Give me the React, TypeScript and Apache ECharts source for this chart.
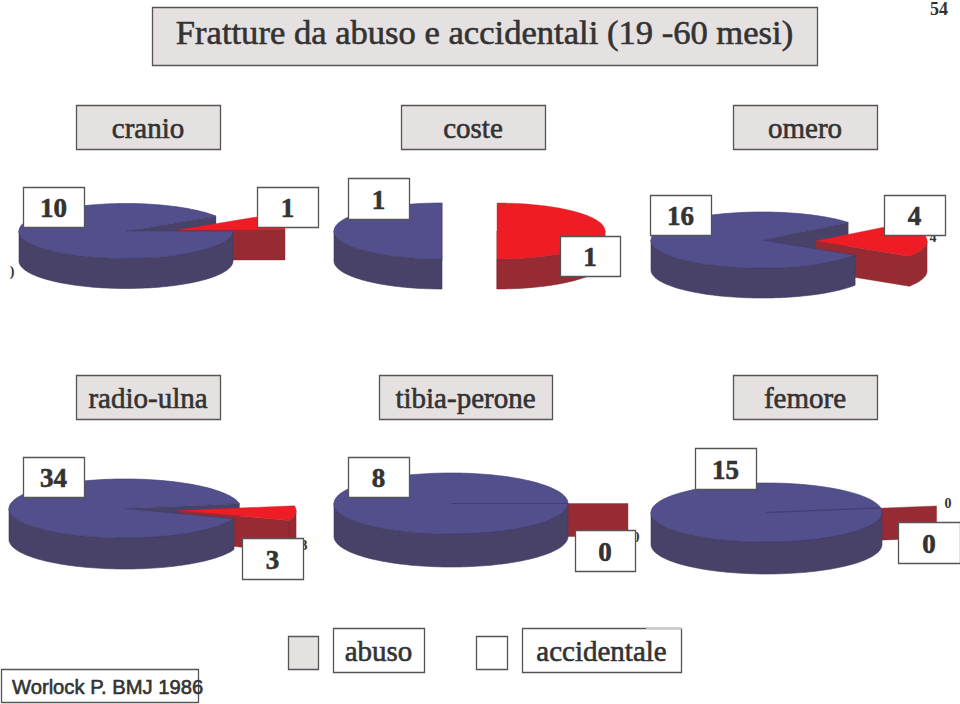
import React, { useEffect, useRef } from "react";
import * as echarts from "echarts";

const titleText = "Fratture da abuso e accidentali (19 -60 mesi)";
const pieNames = ["cranio", "coste", "omero", "radio-ulna", "tibia-perone", "femore"];
const abusoValues = [10, 1, 16, 34, 8, 15];
const accidentaleValues = [1, 1, 4, 3, 0, 0];
const legendNames = ["abuso", "accidentale"];
const sourceText = "Worlock P. BMJ 1986";
const pageNumber = "54";

// layout of each drawn 3D pie: cx, cy, rx, ry, depth, startAngle, explodeX, explodeY
const pieLayout = [
  [126, 231, 107, 27.5, 30, 0, 52, -1],
  [442, 231, 108, 28, 30, -90, 55, 0],
  [762, 240, 111, 28, 30, -33, 54, 1],
  [125, 508.5, 116, 29.5, 31, -20, 55, 2],
  [451, 503.5, 117, 30.5, 33, 0, 60, 0],
  [766.5, 512.5, 115.5, 29.5, 32, 9, 56, -2],
];

const BLUE_TOP = "#534f8d";
const BLUE_SIDE = "#484268";
const RED_TOP = "#ee1c25";
const RED_SIDE = "#962b33";
const BOX_GREY = "#e6e1e1";
const BORDER = "#555555";
const INK = "#333333";
const SERIF = "'Liberation Serif', serif";

const rad = (d: number) => (d * Math.PI) / 180;

function renderPie(params: any, api: any) {
  const abuso = api.value(0);
  const acc = api.value(1);
  const [cx, cy, rx, ry, depth, start, ox, oy] = pieLayout[params.dataIndex];
  const sweep = (360 * acc) / (abuso + acc);
  const pt = (x0: number, y0: number, a: number, dz = 0) => [
    x0 + rx * Math.cos(rad(a)),
    y0 - ry * Math.sin(rad(a)) + dz,
  ];
  const arc = (x0: number, y0: number, a0: number, a1: number, dz = 0) => {
    const n = Math.max(1, Math.ceil((a1 - a0) / 2));
    const out: number[][] = [];
    for (let i = 0; i <= n; i++) out.push(pt(x0, y0, a0 + ((a1 - a0) * i) / n, dz));
    return out;
  };
  const poly = (points: number[][], fill: string, stroke: string, lineWidth = 0.6) => ({
    type: "polygon",
    shape: { points },
    silent: true,
    style: { fill, stroke, lineWidth },
  });
  const top = (x0: number, y0: number, a0: number, a1: number) => [[x0, y0], ...arc(x0, y0, a0, a1)];
  const wall = (x0: number, y0: number, a0: number, a1: number) => {
    const lo = Math.max(a0, 180);
    const hi = Math.min(a1, 360);
    if (hi <= lo) return null;
    return [...arc(x0, y0, lo, hi), ...arc(x0, y0, lo, hi, depth).reverse()];
  };
  const cut = (x0: number, y0: number, a: number) => {
    const p = pt(x0, y0, a);
    return [[x0, y0], p, [p[0], p[1] + depth], [x0, y0 + depth]];
  };

  const blueFrom = start + sweep;
  const blueTo = start + 360;
  const redX = cx + ox;
  const redY = cy + oy;
  const redFrom = start < 0 ? start + 360 : start;
  const children: any[] = [];

  // back cut face of the large slice
  children.push(poly(cut(cx, cy, blueFrom), BLUE_SIDE, BLUE_SIDE, 0.3));
  // detached slice
  const redWall = wall(redX, redY, redFrom, redFrom + sweep);
  if (redWall) children.push(poly(redWall, RED_SIDE, "#7c2a30"));
  children.push(poly(cut(redX, redY, start), RED_SIDE, "#8a2a31", 0.4));
  if (acc > 0) children.push(poly(top(redX, redY, start, start + sweep), RED_TOP, "#c8242c", 0.4));
  // large slice
  const blueWall = wall(cx, cy, blueFrom, blueTo);
  if (blueWall) children.push(poly(blueWall, BLUE_SIDE, "#3f3a5e"));
  children.push(poly(top(cx, cy, blueFrom, blueTo), BLUE_TOP, "#403b70"));

  return { type: "group", children };
}

function box(
  x0: number,
  y0: number,
  x1: number,
  y1: number,
  fill: string,
  text?: string,
  font?: string,
  textDy = 1,
) {
  const els: any[] = [
    {
      type: "rect",
      z: 10,
      shape: { x: x0 + 0.5, y: y0 + 0.5, width: x1 - x0, height: y1 - y0 },
      style: { fill, stroke: BORDER, lineWidth: 1.3 },
    },
  ];
  if (text !== undefined) {
    els.push({
      type: "text",
      z: 11,
      x: (x0 + x1) / 2,
      y: (y0 + y1) / 2 + textDy,
      style: { text, font, fill: INK, stroke: INK, lineWidth: 0.6, textAlign: "center", textVerticalAlign: "middle" },
    });
  }
  return els;
}

function small(text: string, x: number, y: number, font = `bold 14px ${SERIF}`) {
  return {
    type: "text",
    z: 5,
    x,
    y,
    style: { text, font, fill: INK, textAlign: "center", textVerticalAlign: "middle" },
  };
}

export default function App() {
  const ref = useRef<HTMLDivElement>(null);
  useEffect(() => {
    const chart = echarts.init(ref.current!, undefined, { renderer: "svg" });
    const nameFont = `29px ${SERIF}`;
    const numFont = `bold 27px ${SERIF}`;
    const legendFont = `29px ${SERIF}`;
    const nameBoxes = [
      [76, 105, 220, 149],
      [401, 105, 545, 149],
      [733, 105, 877, 149],
      [76, 375, 220, 419],
      [379, 375, 552, 419],
      [733, 375, 877, 419],
    ];
    const abusoBoxes = [
      [23, 187, 84, 227],
      [348, 178, 409, 219],
      [650, 195, 711, 235],
      [23, 457, 84, 497],
      [348, 457, 409, 497],
      [695, 448, 756, 489],
    ];
    const accBoxes = [
      [257, 187, 318, 227],
      [560, 236, 620, 276],
      [884, 195, 945, 235],
      [242, 538, 303, 579],
      [575, 530, 635, 571],
      [898, 522, 960, 563],
    ];
    const elements: any[] = [
      ...box(152, 7, 817, 65, BOX_GREY, titleText, `34.6px ${SERIF}`, -4),
      {
        type: "text",
        z: 11,
        x: 939,
        y: 9,
        style: { text: pageNumber, font: `bold 18px ${SERIF}`, fill: INK, textAlign: "center", textVerticalAlign: "middle" },
      },
      small(")", 12, 271),
      small(String(accidentaleValues[2]), 933, 237),
      small(String(accidentaleValues[3]), 304, 545),
      small(String(accidentaleValues[4]), 636, 537),
      small(String(accidentaleValues[5]), 948, 503),
    ];
    pieNames.forEach((n, i) => {
      const [a, b, c, d] = nameBoxes[i];
      elements.push(...box(a, b, c, d, BOX_GREY, n, nameFont));
      const [e, f, g, h] = abusoBoxes[i];
      elements.push(...box(e, f, g, h, "#ffffff", String(abusoValues[i]), numFont));
      const [j, k, l, m] = accBoxes[i];
      elements.push(...box(j, k, l, m, "#ffffff", String(accidentaleValues[i]), numFont));
    });
    elements.push(
      ...box(288, 636, 318, 669, BOX_GREY),
      ...box(333, 628, 424, 672, "#ffffff", legendNames[0], legendFont),
      ...box(476, 636, 507, 669, "#ffffff"),
      ...box(522, 628, 681, 672, "#ffffff", legendNames[1], legendFont),
      {
        type: "line",
        z: 12,
        shape: { x1: 646, y1: 628.5, x2: 682, y2: 628.5 },
        style: { stroke: "#c8c8c8", lineWidth: 1.4 },
      },
      ...box(1, 669, 198, 702, "#ffffff"),
      {
        type: "text",
        z: 11,
        x: 12,
        y: 687,
        style: { text: sourceText, font: `20.2px 'Liberation Sans', sans-serif`, fill: INK, stroke: INK, lineWidth: 0.6, textAlign: "left", textVerticalAlign: "middle" },
      },
    );
    chart.setOption({
      animation: false,
      backgroundColor: "#ffffff",
      series: [
        {
          type: "custom",
          coordinateSystem: "none",
          silent: true,
          renderItem: renderPie,
          data: pieNames.map((n, i) => ({ name: n, value: [abusoValues[i], accidentaleValues[i]] })),
        },
      ],
      graphic: { elements },
    });
    return () => chart.dispose();
  }, []);
  return <div ref={ref} style={{ position: "fixed", left: 0, top: 0, width: 960, height: 704 }} />;
}
